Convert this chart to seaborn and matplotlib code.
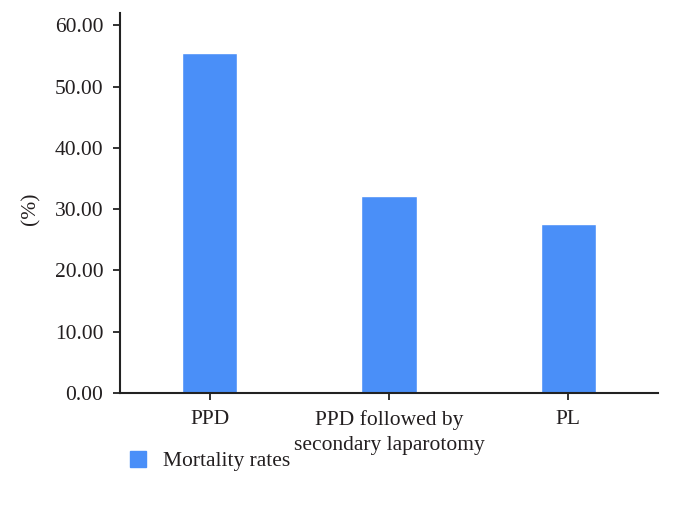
import matplotlib
matplotlib.use("Agg")
import matplotlib.pyplot as plt
import seaborn as sns
import pandas as pd
from matplotlib.patches import Patch

categories = ["PPD", "PPD followed by\nsecondary laparotomy", "PL"]
mortality = [55.4, 32.2, 27.6]
yticks = [0, 10, 20, 30, 40, 50, 60]
series_name = "Mortality rates"
bar_color = "#4a8ff8"

sns.set_style("ticks")
plt.rcParams['font.family'] = ['Liberation Serif', 'DejaVu Serif']
plt.rcParams['text.color'] = "#231f20"
plt.rcParams['xtick.labelcolor'] = "#231f20"
plt.rcParams['ytick.labelcolor'] = "#231f20"

df = pd.DataFrame({"cat": categories, "val": mortality, "series": series_name})

fig = plt.figure(figsize=(6.77, 5.14), dpi=100)
ax = fig.add_axes([120/677, 1 - 393/514, (658-120)/677, (393-13)/514])
sns.barplot(data=df, x="cat", y="val", hue="series", palette=[bar_color],
            width=0.31, ax=ax, legend=False, saturation=1)
ax.set_xlim(-0.5, 2.5)
ax.set_ylim(0, 62.0)
ax.set_yticks(yticks)
ax.set_yticklabels([f"{v:.2f}" for v in yticks], fontsize=15.5)
for lbl in ax.get_xticklabels():
    lbl.set_fontsize(15.5)
    lbl.set_linespacing(1.45)
ax.tick_params(axis='x', length=5, width=1.3, pad=7, color="#222222")
ax.tick_params(axis='y', length=5, width=1.3, pad=7, color="#222222")
ax.set_xlabel("")
ax.set_ylabel("(%)", fontsize=15.5, labelpad=10, color="#231f20")
ax.yaxis.label.set_y(30 / 62.0)
for s in ["top", "right"]:
    ax.spines[s].set_visible(False)
for s in ["left", "bottom"]:
    ax.spines[s].set_linewidth(1.5)
    ax.spines[s].set_color("#222222")

fig.legend(handles=[Patch(color=bar_color, label=series_name)],
           loc="center left", bbox_to_anchor=(130/677, 1 - 461/514), frameon=False,
           fontsize=15.5, handlelength=0.75, handleheight=0.75, handletextpad=0.8,
           borderpad=0, borderaxespad=0)
fig.savefig("out.png", dpi=100)
